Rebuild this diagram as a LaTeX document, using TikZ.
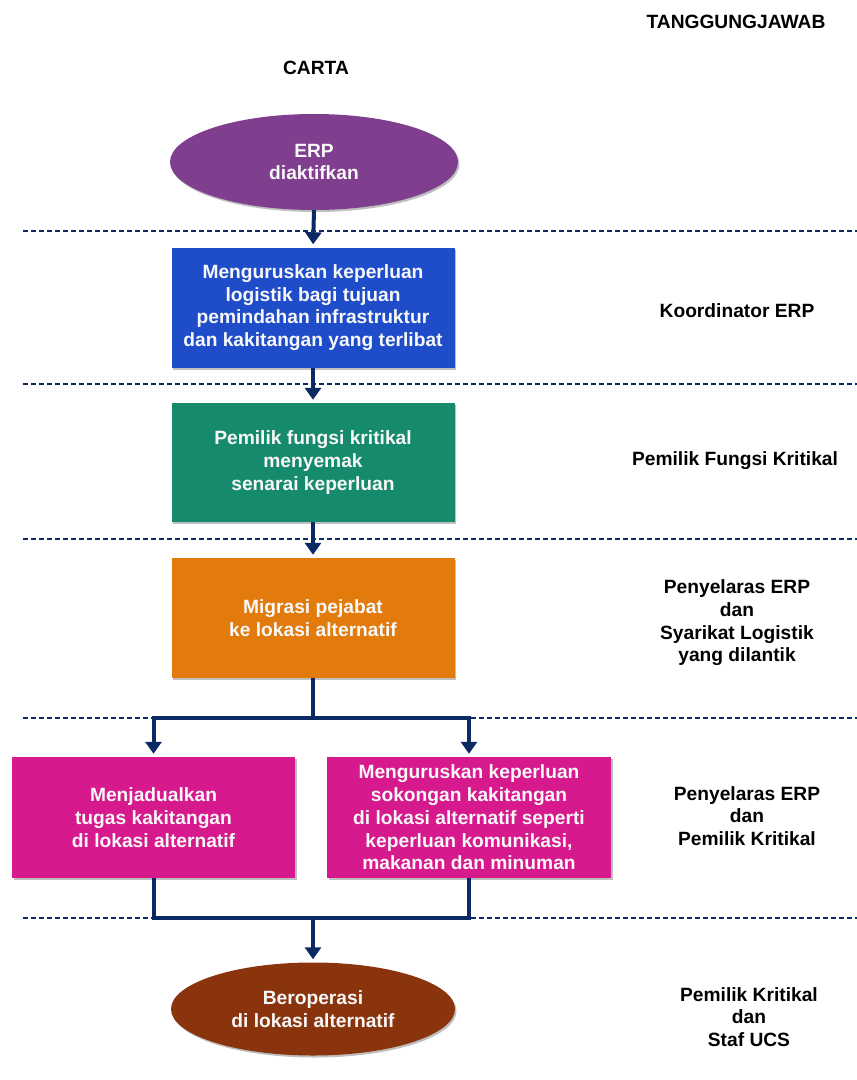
\documentclass[tikz,border=0pt]{standalone}
\usepackage{fontspec}
\setmainfont{Liberation Sans}
\usetikzlibrary{arrows.meta,shapes.geometric,shadows}

\definecolor{startpurple}{RGB}{128,62,142}
\definecolor{stepblue}{RGB}{31,77,201}
\definecolor{stepgreen}{RGB}{22,138,108}
\definecolor{steporange}{RGB}{226,122,12}
\definecolor{steppink}{RGB}{214,25,140}
\definecolor{endbrown}{RGB}{138,52,14}
\definecolor{flownavy}{RGB}{11,42,99}
\definecolor{boxtextwhite}{RGB}{248,248,248}

\begin{document}
\begin{tikzpicture}[x=1pt,y=-1pt,
  txt/.style={font=\fontsize{19.2}{22.7}\selectfont\bfseries, align=center, inner sep=0pt},
  boxtext/.style={txt, text=boxtextwhite},
  softshadow/.style={drop shadow={shadow xshift=1.5pt, shadow yshift=-2pt, opacity=0.25, fill=black}},
  stepbox/.style={boxtext, rectangle, minimum width=283pt, minimum height=120pt, softshadow},
  oval/.style={boxtext, ellipse, softshadow},
  flow/.style={draw=flownavy, line width=4pt},
  flowarrow/.style={flow, -{Triangle[width=16pt,length=12pt]}, shorten >=3pt},
  divider/.style={draw=flownavy, line width=1.3pt, dash pattern=on 5pt off 3pt},
]
\useasboundingbox (0,0) rectangle (857,1080);

% dashed separators between the stages
\foreach \yy in {231,384,539,718,918}
  \draw[divider] (23,\yy) -- (857,\yy);

% column headings
\node[txt, anchor=base] (tajuk) at (736,28) {TANGGUNGJAWAB};
\node[txt, anchor=base] (carta) at (316,74) {CARTA};

% flow chart
\node[oval, fill=startpurple, minimum width=288pt, minimum height=96pt] (start) at (314,162) {ERP\\diaktifkan};
\node[stepbox, fill=stepblue] (logistik) at (313,307.5)
  {Menguruskan keperluan\\logistik bagi tujuan\\pemindahan infrastruktur\\dan kakitangan yang terlibat};
\node[stepbox, fill=stepgreen, minimum height=119pt] (semak) at (313,462.5)
  {Pemilik fungsi kritikal\\menyemak\\senarai keperluan};
\node[stepbox, fill=steporange] (migrasi) at (313,618)
  {Migrasi pejabat\\ke lokasi alternatif};
\node[stepbox, fill=steppink, minimum height=121pt] (jadual) at (153.5,817.5)
  {Menjadualkan\\tugas kakitangan\\di lokasi alternatif};
\node[stepbox, fill=steppink, minimum height=121pt, minimum width=284pt] (sokongan) at (469,817.5)
  {Menguruskan keperluan\\sokongan kakitangan\\di lokasi alternatif seperti\\keperluan komunikasi,\\makanan dan minuman};
\node[oval, fill=endbrown, minimum width=284pt, minimum height=93pt] (operasi) at (313,1009)
  {Beroperasi\\di lokasi alternatif};

% connectors
\coordinate (split) at (313,718);
\coordinate (join) at (313,918);
\draw[flowarrow] (start.south) -- (logistik.north);
\draw[flowarrow] (logistik.south) -- (semak.north);
\draw[flowarrow] (semak.south) -- (migrasi.north);
\draw[flowarrow] (migrasi.south) -- (split) -| (jadual.north);
\draw[flowarrow] (split) -| (sokongan.north);
\draw[flow] (jadual.south) |- (join) -| (sokongan.south);
\draw[flowarrow] (join) -- (operasi.north);

% responsibilities
\node[txt] (koordinator) at (737,311) {Koordinator ERP};
\node[txt] (pemilikfungsi) at (735,461) {Pemilik Fungsi Kritikal};
\node[txt] (penyelaras1) at (737,623) {Penyelaras ERP\\dan\\Syarikat Logistik\\yang dilantik};
\node[txt] (penyelaras2) at (747,816) {Penyelaras ERP\\dan\\Pemilik Kritikal};
\node[txt] (pemilikstaf) at (749,1017) {Pemilik Kritikal\\dan\\Staf UCS};
\end{tikzpicture}
\end{document}
